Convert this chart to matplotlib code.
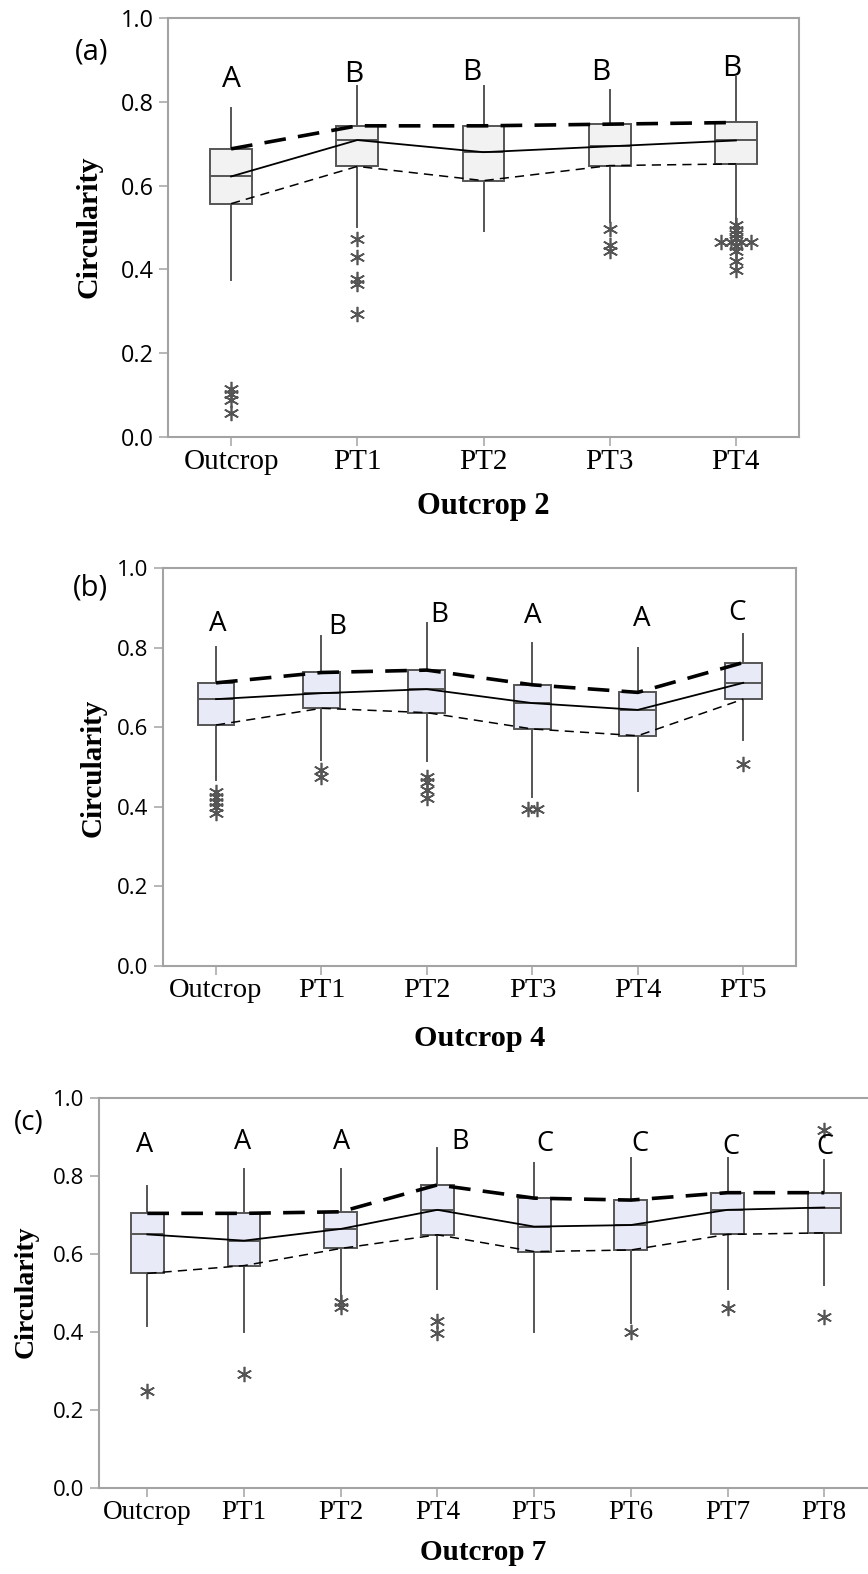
import matplotlib
matplotlib.use("Agg")
import matplotlib.pyplot as plt
import numpy as np

# ---------------- data ----------------
# (a) Outcrop 2
cats_a = ["Outcrop", "PT1", "PT2", "PT3", "PT4"]
q1_a = [0.557, 0.646, 0.612, 0.648, 0.652]
med_a = [0.622, 0.709, 0.680, 0.694, 0.708]
q3_a = [0.688, 0.743, 0.743, 0.747, 0.751]
lo_a = [0.374, 0.501, 0.491, 0.513, 0.513]
hi_a = [0.785, 0.839, 0.839, 0.828, 0.859]
out_a = [[0.115, 0.103, 0.088, 0.056],
         [0.473, 0.429, 0.378, 0.366, 0.294],
         [],
         [0.497, 0.457, 0.445],
         [0.505, 0.495, 0.485, 0.475, 0.465, 0.465, 0.465, 0.465,
          0.455, 0.445, 0.420, 0.398]]
groups_a = ["A", "B", "B", "B", "B"]

# (b) Outcrop 4
cats_b = ["Outcrop", "PT1", "PT2", "PT3", "PT4", "PT5"]
q1_b = [0.606, 0.648, 0.637, 0.596, 0.579, 0.671]
med_b = [0.671, 0.686, 0.696, 0.661, 0.644, 0.712]
q3_b = [0.712, 0.738, 0.744, 0.707, 0.688, 0.763]
lo_b = [0.468, 0.518, 0.516, 0.426, 0.441, 0.568]
hi_b = [0.801, 0.831, 0.862, 0.811, 0.800, 0.836]
out_b = [[0.438, 0.426, 0.413, 0.401, 0.384],
         [0.492, 0.474],
         [0.476, 0.463, 0.443, 0.422],
         [0.395, 0.395],
         [],
         [0.508]]
groups_b = ["A", "B", "B", "A", "A", "C"]

# (c) Outcrop 7
cats_c = ["Outcrop", "PT1", "PT2", "PT4", "PT5", "PT6", "PT7", "PT8"]
q1_c = [0.551, 0.571, 0.615, 0.650, 0.607, 0.611, 0.651, 0.655]
med_c = [0.651, 0.635, 0.665, 0.714, 0.671, 0.675, 0.714, 0.720]
q3_c = [0.705, 0.705, 0.709, 0.778, 0.744, 0.739, 0.758, 0.758]
lo_c = [0.416, 0.402, 0.485, 0.510, 0.402, 0.423, 0.510, 0.521]
hi_c = [0.775, 0.819, 0.819, 0.873, 0.833, 0.848, 0.848, 0.842]
out_c = [[0.249], [0.293], [0.477, 0.464], [0.430, 0.397], [],
         [0.402], [0.462], [0.920, 0.440]]
groups_c = ["A", "A", "A", "B", "C", "C", "C", "C"]

yticks = [0.0, 0.2, 0.4, 0.6, 0.8, 1.0]

# ---------------- styling ----------------
SERIF = "Liberation Serif"
SANS = "Open Sans"
GREY = "#555555"
SPINE = "#a3a3a3"
W, H = 868, 1574

fig = plt.figure(figsize=(W / 100, H / 100), dpi=100)


def px_rect(left, top, right, bottom):
    return [left / W, 1 - bottom / H, (right - left) / W, (bottom - top) / H]


def panel(rect, cats, q1, med, q3, lo, hi, outs, groups, face,
          letter_y, letter_dx, box_w, sizes):
    tick_fs, xt_fs, let_fs = sizes
    ax = fig.add_axes(rect)
    pos = np.arange(1, len(cats) + 1)
    stats = [dict(med=m, q1=a, q3=b, whislo=l, whishi=h, fliers=[])
             for m, a, b, l, h in zip(med, q1, q3, lo, hi)]
    ax.bxp(stats, positions=pos, widths=box_w, showcaps=False,
           showfliers=False, patch_artist=True,
           boxprops=dict(facecolor=face, edgecolor=GREY, linewidth=1.4),
           medianprops=dict(color=GREY, linewidth=1.4),
           whiskerprops=dict(color=GREY, linewidth=1.4), zorder=2)

    # outliers; tied values are spread side by side
    for p, vals in zip(pos, outs):
        uniq, counts = np.unique(vals, return_counts=True) if vals else ([], [])
        for v, n in zip(uniq, counts):
            offs = (np.arange(n) - (n - 1) / 2) * 0.08
            ax.plot(p + offs, [v] * n, linestyle="none", marker=(6, 2, 0),
                    markersize=11, markeredgewidth=1.2, color=GREY, zorder=3)

    # connecting lines through quartiles and medians
    ax.plot(pos, q3, color="black", linewidth=2.6, dashes=(6.0, 3.4),
            zorder=4)
    ax.plot(pos, med, color="black", linewidth=1.3, zorder=4)
    ax.plot(pos, q1, color="black", linewidth=1.1, dashes=(6.0, 4.0),
            zorder=4)

    # grouping letters
    for p, g, y, dx in zip(pos, groups, letter_y, letter_dx):
        ax.text(p + dx, y, g, ha="center", va="baseline",
                fontsize=let_fs, family=SANS, color="black", zorder=5)

    ax.set_xlim(0.5, len(cats) + 0.5)
    ax.set_ylim(0, 1.0)
    ax.set_yticks(yticks)
    ax.set_yticklabels([f"{t:.1f}" for t in yticks], family=SANS,
                       fontsize=tick_fs)
    ax.set_xticks(pos)
    ax.set_xticklabels(cats, family=SERIF, fontsize=xt_fs)
    ax.tick_params(axis="both", direction="out", length=6.5, width=1.1,
                   color=SPINE)
    ax.tick_params(axis="y", pad=4)
    ax.tick_params(axis="x", pad=2)
    for s in ax.spines.values():
        s.set_color(SPINE)
        s.set_linewidth(1.5)
    return ax


ax_a = panel(px_rect(168, 18.3, 799, 436.7), cats_a, q1_a, med_a, q3_a,
             lo_a, hi_a, out_a, groups_a, "#f2f2f2",
             [0.836, 0.848, 0.853, 0.853, 0.862],
             [0.0, -0.03, -0.09, -0.07, -0.03], 0.33, (16.8, 21, 21.5))

ax_b = panel(px_rect(163.3, 568.3, 796, 966), cats_b, q1_b, med_b, q3_b,
             lo_b, hi_b, out_b, groups_b, "#e8eaf7",
             [0.843, 0.836, 0.866, 0.863, 0.856, 0.870],
             [0.02, 0.15, 0.12, 0.0, 0.035, -0.06], 0.35, (16, 20.5, 20))

ax_c = panel(px_rect(99, 1098.3, 872.6, 1488.3), cats_c, q1_c, med_c, q3_c,
             lo_c, hi_c, out_c, groups_c, "#e8eaf7",
             [0.863, 0.870, 0.870, 0.870, 0.866, 0.866, 0.857, 0.857],
             [-0.03, -0.02, 0.01, 0.23, 0.11, 0.09, 0.03, 0.01], 0.34,
             (16, 19.5, 19.5))
ax_c.spines["right"].set_visible(False)

# axis titles and panel tags
def fig_text(x, y, s, **kw):
    fig.text(x / W, 1 - y / H, s, ha="center", va="center", **kw)

fig_text(89, 226.5, "Circularity", rotation=90, family=SERIF,
         fontweight="bold", fontsize=21.5)
fig_text(93, 768, "Circularity", rotation=90, family=SERIF,
         fontweight="bold", fontsize=21)
fig_text(26, 1292, "Circularity", rotation=90, family=SERIF,
         fontweight="bold", fontsize=20)

fig_text(483.5, 507, "Outcrop 2", family=SERIF, fontweight="bold",
         fontsize=22)
fig_text(480, 1038, "Outcrop 4", family=SERIF, fontweight="bold",
         fontsize=21.8)
fig_text(483, 1553, "Outcrop 7", family=SERIF, fontweight="bold",
         fontsize=21)

fig_text(91.5, 52, "(a)", family=SANS, fontsize=21)
fig_text(90.5, 588, "(b)", family=SANS, fontsize=21)
fig_text(29, 1123, "(c)", family=SANS, fontsize=20)

fig.savefig("out.png", dpi=100)
